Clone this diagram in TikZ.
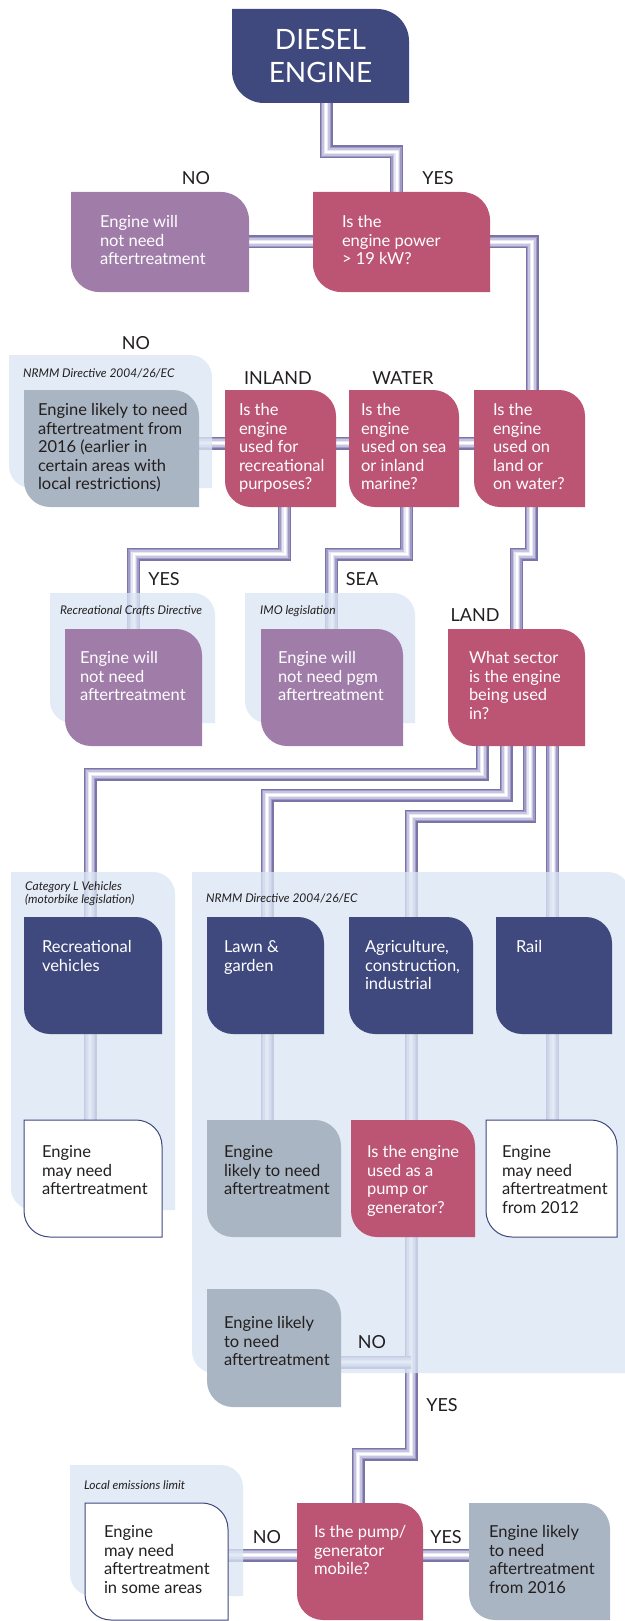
\documentclass[tikz,border=0pt]{standalone}
\usepackage{fontspec}
\setmainfont{Lato}
\usetikzlibrary{calc}
\pgfdeclarelayer{pipes}\pgfdeclarelayer{panels}\pgfdeclarelayer{boxes}
\pgfsetlayers{pipes,panels,boxes,main}
\definecolor{cNavy}{RGB}{64,73,126}
\definecolor{cPink}{RGB}{187,85,115}
\definecolor{cPurp}{RGB}{160,124,169}
\definecolor{cGrey}{RGB}{169,181,194}
\definecolor{cPanel}{RGB}{218,229,243}
\definecolor{cPa}{RGB}{122,117,166}
\definecolor{cPb}{RGB}{158,155,199}
\definecolor{cPc}{RGB}{198,196,225}
\definecolor{cPd}{RGB}{232,231,244}
\definecolor{cLab}{RGB}{35,31,32}
\newcommand\btx[5]{\parbox[c][#2pt][t]{#1pt}{\vspace*{\dimexpr#3pt-7pt\relax}\hspace*{#4pt}\begin{tabular}[t]{@{}l@{}}#5\end{tabular}}}
\newcommand\shp[3]{\fill[#2] (#1.north west) -- ([xshift=-#3pt]#1.north east) arc[start angle=90,end angle=0,radius=#3pt] -- (#1.south east) -- ([xshift=#3pt]#1.south west) arc[start angle=270,end angle=180,radius=#3pt] -- cycle;}
\newcommand\shpw[2]{\filldraw[fill=white,draw=cNavy,line width=1pt] (#1.north west) -- ([xshift=-#2pt]#1.north east) arc[start angle=90,end angle=0,radius=#2pt] -- (#1.south east) -- ([xshift=#2pt]#1.south west) arc[start angle=270,end angle=180,radius=#2pt] -- cycle;}
\newcommand\pnl[4]{\fill[cPanel,fill opacity=0.78] (#1,#2) -- (#3-22,#2) arc[start angle=90,end angle=0,radius=22pt] -- (#3,#4) -- (#1+22,#4) arc[start angle=270,end angle=180,radius=22pt] -- cycle;}
\tikzset{
  bx/.style={inner sep=0pt, outer sep=0pt, font=\fontsize{16.5}{18.5}\selectfont},
  wt/.style={bx, text=white},
  bk/.style={bx, text=cLab},
  lab/.style={font=\fontsize{18}{20}\selectfont, text=cLab, inner sep=0pt},
  ital/.style={font=\fontsize{12}{13.5}\selectfont\itshape, text=cLab, inner sep=0pt},
  pipe/.style={line width=13pt, draw=cPa,
    postaction={draw=cPb, line width=10.5pt},
    postaction={draw=cPc, line width=7.5pt},
    postaction={draw=cPd, line width=4.5pt},
    postaction={draw=white, line width=2pt}},
}
\begin{document}
\begin{tikzpicture}[x=1pt,y=-1pt]
\useasboundingbox (0,0) rectangle (624,1621);
% ---------- boxes (nodes) ----------
\node[wt, minimum width=177pt, minimum height=94pt, align=center, font=\fontsize{28}{33}\selectfont] (diesel) at (320.5,56) {DIESEL\\ENGINE};
\node[wt] (nn1) at (160,242) {\btx{178}{100}{30}{29}{Engine will\\not need\\aftertreatment}};
\node[wt] (power) at (401.5,242) {\btx{177}{100}{30}{29}{Is the\\engine power\\> 19 kW?}};
\node[bk] (grey1) at (111.5,448.5) {\btx{175}{117}{20}{14}{Engine likely to need\\aftertreatment from\\2016 (earlier in\\certain areas with\\local restrictions)}};
\node[wt] (rec) at (280.5,448.5) {\btx{111}{117}{20}{14}{Is the\\engine\\used for\\recreational\\purposes?}};
\node[wt] (sea) at (404,448.5) {\btx{110}{117}{20}{12}{Is the\\engine\\used on sea\\or inland\\marine?}};
\node[wt] (land) at (529.5,448.5) {\btx{111}{117}{20}{19}{Is the\\engine\\used on\\land or\\on water?}};
\node[wt] (nn2) at (133.5,687.5) {\btx{137}{117}{29}{15}{Engine will\\not need\\aftertreatment}};
\node[wt] (nn3) at (332,687.5) {\btx{142}{117}{29}{17}{Engine will\\not need pgm\\aftertreatment}};
\node[wt] (sector) at (516.5,687.5) {\btx{137}{117}{29}{21}{What sector\\is the engine\\being used\\in?}};
\node[wt] (recv) at (93,975.5) {\btx{138}{117}{30}{18}{Recreational\\vehicles}};
\node[wt] (lawn) at (265.5,975.5) {\btx{117}{117}{30}{17}{Lawn \&\\garden}};
\node[wt] (agri) at (411,975.5) {\btx{124}{117}{30}{16}{Agriculture,\\construction,\\industrial}};
\node[wt] (rail) at (554,975.5) {\btx{116}{117}{30}{20}{Rail}};
\node[bk] (maybe1) at (93,1178.5) {\btx{138}{117}{32}{18}{Engine\\may need\\aftertreatment}};
\node[bk] (grey2) at (274,1178.5) {\btx{134}{117}{32}{17}{Engine\\likely to need\\aftertreatment}};
\node[wt] (pump) at (413,1178.5) {\btx{124}{117}{32}{16}{Is the engine\\used as a\\pump or\\generator?}};
\node[bk] (railw) at (551.5,1178.5) {\btx{131}{117}{32}{16}{Engine\\may need\\aftertreatment\\from 2012}};
\node[bk] (grey3) at (274,1348) {\btx{134}{118}{34}{17}{Engine likely\\to need\\aftertreatment}};
\node[bk] (localw) at (156.5,1561.5) {\btx{143}{117}{29}{19}{Engine\\may need\\aftertreatment\\in some areas}};
\node[wt] (mobile) at (360,1561.5) {\btx{126}{117}{29}{17}{Is the pump/\\generator\\mobile?}};
\node[bk] (grey4) at (539.5,1561.5) {\btx{141}{117}{29}{20}{Engine likely\\to need\\aftertreatment\\from 2016}};
% ---------- labels ----------
\node[lab] (lno1) at (196,178) {NO};
\node[lab] (lyes1) at (438,178) {YES};
\node[lab] (lno2) at (136,343) {NO};
\node[lab] (linl) at (278,378) {INLAND};
\node[lab] (lwat) at (403,378) {WATER};
\node[lab] (lyes2) at (164,579) {YES};
\node[lab] (lsea) at (362,579) {SEA};
\node[lab] (lland) at (475,615) {LAND};
\node[lab] (lno3) at (372,1342) {NO};
\node[lab] (lyes3) at (442,1405) {YES};
\node[lab] (lno4) at (267,1537) {NO};
\node[lab] (lyes4) at (446,1537) {YES};
\node[ital, anchor=base west] (t1) at (23,377.5) {NRMM Directive 2004/26/EC};
\node[ital, anchor=base west] (t2) at (60,614.5) {Recreational Crafts Directive};
\node[ital, anchor=base west] (t3) at (260,614.5) {IMO legislation};
\node[ital, anchor=north west, align=left] (t4) at (25,881) {Category L Vehicles\\(motorbike legislation)};
\node[ital, anchor=base west] (t5) at (206,902.5) {NRMM Directive 2004/26/EC};
\node[ital, anchor=base west] (t6) at (84,1489.5) {Local emissions limit};
% ---------- box shapes ----------
\begin{pgfonlayer}{boxes}
\shp{diesel}{cNavy}{32}
\shp{nn1}{cPurp}{28}
\shp{power}{cPink}{28}
\shp{grey1}{cGrey}{26}
\shp{rec}{cPink}{26}
\shp{sea}{cPink}{26}
\shp{land}{cPink}{26}
\shp{nn2}{cPurp}{26}
\shp{nn3}{cPurp}{26}
\shp{sector}{cPink}{26}
\shp{recv}{cNavy}{26}
\shp{lawn}{cNavy}{26}
\shp{agri}{cNavy}{26}
\shp{rail}{cNavy}{26}
\shpw{maybe1}{26}
\shp{grey2}{cGrey}{26}
\shp{pump}{cPink}{26}
\shpw{railw}{26}
\shp{grey3}{cGrey}{26}
\shpw{localw}{26}
\shp{mobile}{cPink}{26}
\shp{grey4}{cGrey}{26}
\end{pgfonlayer}
% ---------- panels ----------
\begin{pgfonlayer}{panels}
\pnl{9}{355}{212}{488}
\pnl{50}{593}{215}{723}
\pnl{245}{593}{415}{723}
\pnl{11}{872}{175}{1210}
\pnl{192}{872}{630}{1373}
\pnl{70}{1465}{243}{1596}
\end{pgfonlayer}
% ---------- pipes ----------
\begin{pgfonlayer}{pipes}
\coordinate (j1) at (411,1362);
\draw[pipe] ([xshift=5.5pt]diesel.south) -- ++(0,49) -| ([xshift=-5pt]power.north);
\draw[pipe] (power.west) -- (nn1.east);
\draw[pipe] (power.east) -| ([xshift=2.5pt]land.north);
\draw[pipe] ([yshift=5.5pt]grey1.east) -- ([yshift=5.5pt]land.west);
\draw[pipe] ([xshift=4pt]rec.south) -- ++(0,47) -| (nn2.north);
\draw[pipe] ([xshift=2.5pt]sea.south) -- ++(0,47) -| ([xshift=-0.5pt]nn3.north);
\draw[pipe] ([xshift=1.5pt]land.south) -- ++(0,47) -| (sector.north);
\draw[pipe] ([xshift=-34.5pt]sector.south) -- ++(0,28) -| ([xshift=-3pt]recv.north);
\draw[pipe] ([xshift=-3pt]recv.south) -- ([xshift=-3pt]maybe1.north);
\draw[pipe] ([xshift=-10.5pt]sector.south) -- ++(0,49) -| ([xshift=1.5pt]lawn.north);
\draw[pipe] ([xshift=1.5pt]lawn.south) -- ([xshift=-7pt]grey2.north);
\draw[pipe] ([xshift=13pt]sector.south) -- ++(0,70) -| (agri.north);
\draw[pipe] (agri.south) -- ([xshift=-2pt]pump.north);
\draw[pipe] ([xshift=36pt]sector.south) -- ([xshift=-1.5pt]rail.north);
\draw[pipe] ([xshift=-1.5pt]rail.south) -- ([xshift=1pt]railw.north);
\draw[pipe] ([xshift=-2pt]pump.south) -- ++(0,217) -| ([xshift=-2pt]mobile.north);
\draw[pipe] (grey3.east |- j1) -- (j1);
\draw[pipe] ([yshift=6.5pt]localw.east) -- ([yshift=6.5pt]mobile.west);
\draw[pipe] ([yshift=6.5pt]mobile.east) -- ([yshift=6.5pt]grey4.west);
\end{pgfonlayer}
\end{tikzpicture}
\end{document}
